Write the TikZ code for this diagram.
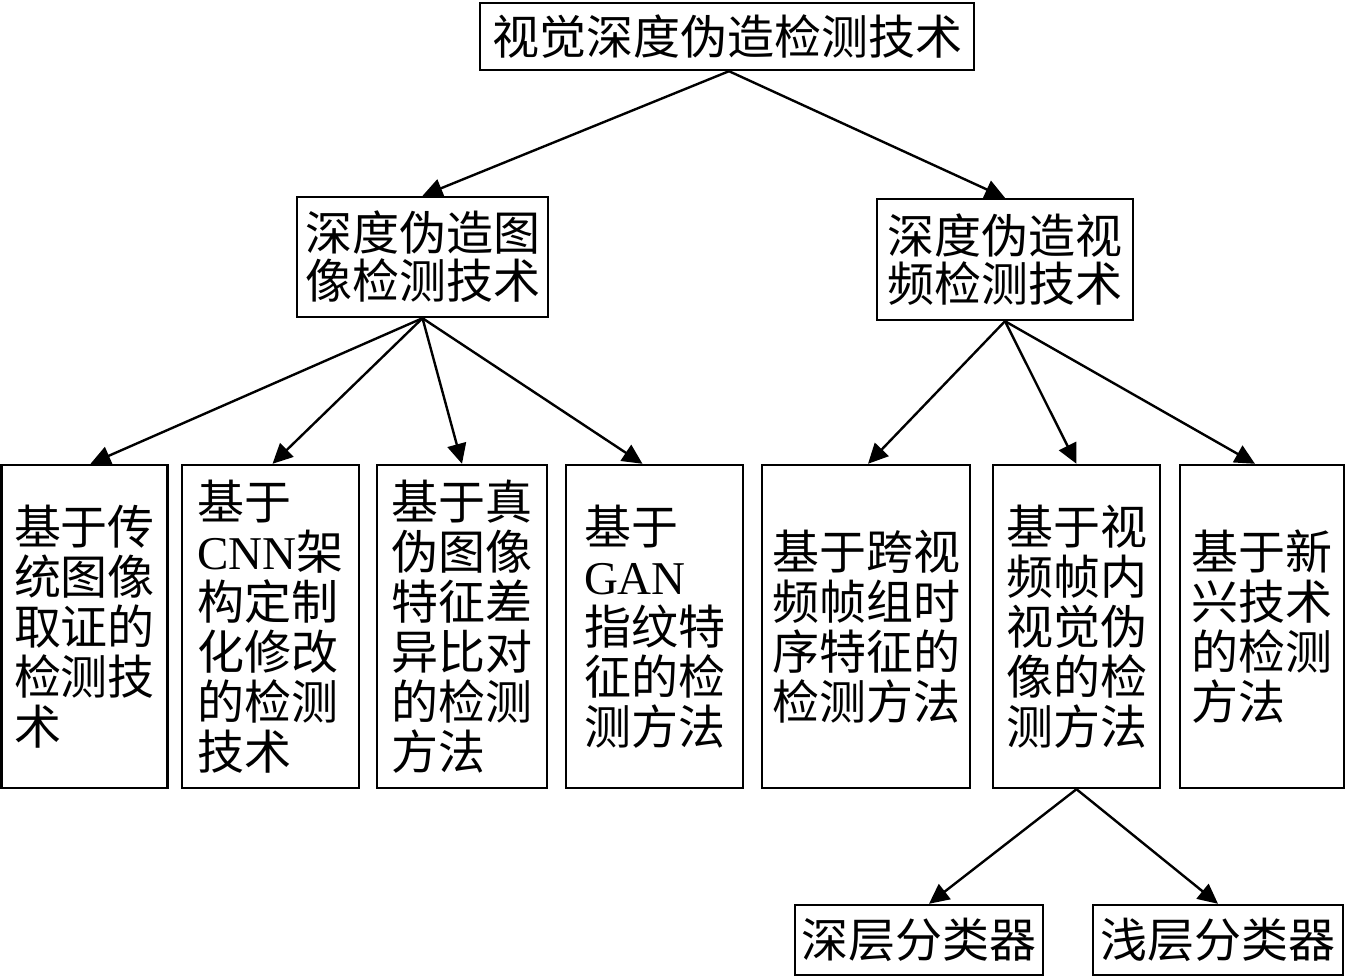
\documentclass[tikz,border=0pt]{standalone}
\usepackage{fontspec}
\setmainfont{Liberation Serif}
\newfontfamily\cjk{Noto Sans CJK SC}
\newfontfamily\lat{Liberation Serif}
\usetikzlibrary{arrows.meta}
\begin{document}
\begin{tikzpicture}[x=1pt,y=1pt,
  box/.style={draw,line width=1.2pt,inner sep=0pt,align=left,
    font=\cjk\fontsize{23.5pt}{25pt}\selectfont},
  arr/.style={line width=1.2pt,-{Triangle[length=10pt,width=9.5pt]}}]
\useasboundingbox (0,0) rectangle (673,-489.5);
% level 1
\node[box,minimum width=247pt,minimum height=33.5pt] (top) at (363.5,-18.25) {视觉深度伪造检测技术};
% level 2
\node[box,minimum width=125.5pt,minimum height=60pt,font=\cjk\fontsize{23.5pt}{24pt}\selectfont] (img) at (211.25,-128.5) {深度伪造图\\像检测技术};
\node[box,minimum width=128pt,minimum height=60.5pt,font=\cjk\fontsize{23.5pt}{24pt}\selectfont] (vid) at (502.5,-129.75) {深度伪造视\\频检测技术};
% level 3
\node[box,minimum width=83pt,minimum height=161.5pt] (b1) at (42.25,-313.25) {基于传\\统图像\\取证的\\检测技\\术};
\node[box,minimum width=88.5pt,minimum height=161.5pt] (b2) at (135.25,-313.25) {基于\\{\lat CNN}架\\构定制\\化修改\\的检测\\技术};
\node[box,minimum width=85pt,minimum height=161.5pt] (b3) at (231,-313.25) {基于真\\伪图像\\特征差\\异比对\\的检测\\方法};
\node[box,minimum width=88.5pt,minimum height=161.5pt] (b4) at (327.25,-313.25) {基于\\{\lat GAN}\\指纹特\\征的检\\测方法};
\node[box,minimum width=104pt,minimum height=161.5pt] (b5) at (433,-313.25) {基于跨视\\频帧组时\\序特征的\\检测方法};
\node[box,minimum width=83.5pt,minimum height=161.5pt] (b6) at (538.25,-313.25) {基于视\\频帧内\\视觉伪\\像的检\\测方法};
\node[box,minimum width=82pt,minimum height=161.5pt] (b7) at (631,-313.25) {基于新\\兴技术\\的检测\\方法};
% level 4
\node[box,minimum width=124pt,minimum height=35pt] (deep) at (459.5,-470) {深层分类器};
\node[box,minimum width=125pt,minimum height=35pt] (shal) at (609,-470) {浅层分类器};
% arrows
\draw[arr] ([xshift=1pt]top.south) -- (img.north);
\draw[arr] ([xshift=1pt]top.south) -- (vid.north);
\draw[arr] (img.south) -- ([xshift=3pt]b1.north);
\draw[arr] (img.south) -- ([xshift=1pt]b2.north);
\draw[arr] (img.south) -- (b3.north);
\draw[arr] (img.south) -- ([xshift=-6pt]b4.north);
\draw[arr] (vid.south) -- ([xshift=1pt]b5.north);
\draw[arr] (vid.south) -- (b6.north);
\draw[arr] (vid.south) -- ([xshift=-3.5pt]b7.north);
\draw[arr] (b6.south) -- ([xshift=5pt]deep.north);
\draw[arr] (b6.south) -- (shal.north);
\end{tikzpicture}
\end{document}
